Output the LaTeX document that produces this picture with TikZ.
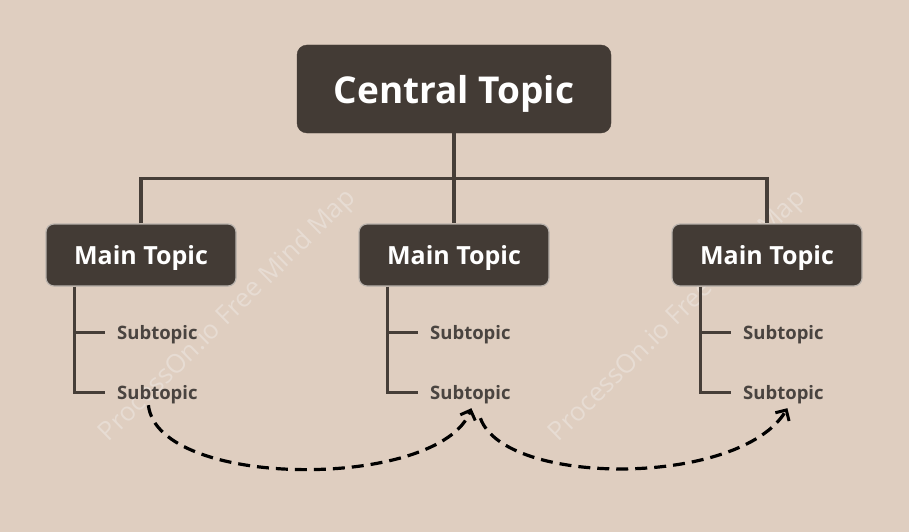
\documentclass[tikz,border=0pt]{standalone}
\usepackage{fontspec}
\setmainfont{Open Sans}
\usetikzlibrary{arrows.meta,calc}
\definecolor{bg}{RGB}{223,206,192}
\definecolor{dark}{RGB}{67,59,53}
\definecolor{linec}{RGB}{70,62,56}
\definecolor{subc}{RGB}{74,68,64}
\definecolor{edgec}{RGB}{185,178,172}
\definecolor{wm}{RGB}{231,220,211}
\tikzset{
  central/.style={fill=dark, draw=dark, rounded corners=10pt, minimum width=314pt, minimum height=88pt, inner sep=0pt, text height=32pt, text depth=4pt, text=white, font=\bfseries\fontsize{37}{42}\selectfont},
  mainbox/.style={fill=dark, draw=edgec, line width=1.2pt, rounded corners=8pt, minimum width=190pt, minimum height=62pt, inner sep=0pt, text height=22pt, text depth=4pt, text=white, font=\bfseries\fontsize{25}{29}\selectfont},
  subtxt/.style={anchor=west, inner sep=0pt, text height=13pt, text depth=0pt, text=subc, font=\bfseries\fontsize{18.5}{22}\selectfont},
  conn/.style={draw=linec, line width=3.2pt},
  rel/.style={draw=black, line width=3.2pt, dash pattern=on 12pt off 7pt, -{Straight Barb[length=8pt,width=16pt,line width=3pt]}},
  wmark/.style={text=wm, rotate=44.5, font=\fontsize{26}{30}\selectfont}
}
\begin{document}
\begin{tikzpicture}[x=1pt,y=-1pt]
\fill[bg] (0,0) rectangle (909,532);
\useasboundingbox (0,0) rectangle (909,532);
% watermarks
\node[wmark] (w1) at (228,316) {ProcessOn.io Free Mind Map};
\node[wmark] (w2) at (678,316) {ProcessOn.io Free Mind Map};
% nodes
\node[central] (c) at (454,89) {Central Topic};
\node[mainbox] (m1) at (141,255) {Main Topic};
\node[mainbox] (m2) at (454,255) {Main Topic};
\node[mainbox] (m3) at (767,255) {Main Topic};
\foreach \i/\x in {1/117,2/430,3/743}{
  \node[subtxt] (s\i a) at (\x,332.5) {Subtopic};
  \node[subtxt] (s\i b) at (\x,392.5) {Subtopic};
}
% tree connectors
\coordinate (hub) at ($(c.south)+(0,45)$);
\draw[conn] (c.south) -- (hub);
\draw[conn] (m1.north) |- (hub) -| (m3.north);
\draw[conn] (hub) -- (m2.north);
\foreach \i in {1,2,3}{
  \draw[conn] ([xshift=29pt]m\i.south west) |- ([xshift=-12pt]s\i b.west);
  \draw[conn] ([xshift=29pt]m\i.south west |- s\i a.west) -- ([xshift=-12pt]s\i a.west);
}
% relationship arrows
\draw[rel] ([xshift=-9pt,yshift=-6pt]s1b.south) .. controls (158,490) and (440,490) .. ([xshift=1pt,yshift=-9pt]s2b.south);
\draw[rel] ([xshift=10pt,yshift=-19pt]s2b.south) .. controls (505,487) and (740,487) .. ([xshift=4pt,yshift=-9pt]s3b.south);
\end{tikzpicture}
\end{document}
